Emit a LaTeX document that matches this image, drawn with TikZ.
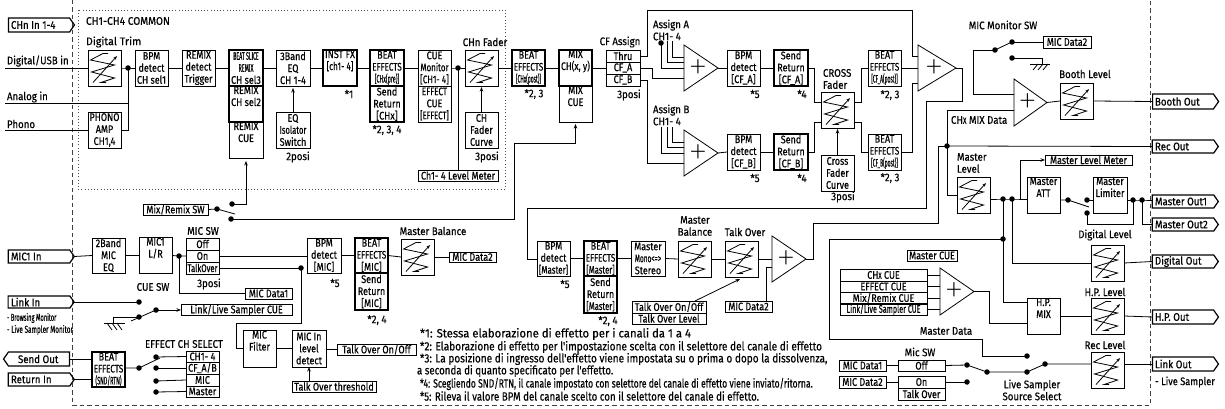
\documentclass[tikz,border=0pt]{standalone}
\usepackage{fontspec}
\usepackage{graphicx}
\setmainfont[FakeStretch=0.82,FakeBold=0.4]{Fira Sans}
\newfontfamily\widef[FakeStretch=0.88,FakeBold=0.4]{Fira Sans}
\newfontfamily\plusf{Lato Light}
\usetikzlibrary{arrows.meta,shapes.symbols}
\newcommand{\fsz}{\fontsize{11}{12}\selectfont}
\newcommand{\nar}[2]{\scalebox{#1}[1]{#2}}
\tikzset{
 wire/.style={line width=0.8pt,line cap=butt,line join=miter},
 box/.style={draw,line width=0.8pt,inner sep=0pt,outer sep=0pt,align=center,font=\fsz},
 tbox/.style={box,line width=1.5pt},
 lab/.style={inner sep=0pt,outer sep=0pt,align=center,font=\widef\fsz},
 labl/.style={lab,align=left,anchor=west},
 note/.style={labl,font=\widef\fontsize{12}{12}\selectfont},
 dot/.style={circle,fill,inner sep=0pt,outer sep=0pt,minimum size=5.5pt},
 arr/.style={wire,-{Stealth[length=4.5pt,width=3.5pt]}},
 sigbox/.style={signal,draw,line width=1.2pt,inner sep=0pt,outer sep=0pt,font=\widef\fsz,signal pointer angle=110},
 opbox/.style={inner sep=0pt,outer sep=0pt,font=\plusf\fontsize{29}{29}\selectfont},
}
% box given by its corners
\newcommand{\bx}[6][box]{\node[#1,minimum width={(#4-#2)*1pt},minimum height={(#5-#3)*1pt}] (#6) at ({(#2+#4)/2},{(#3+#5)/2})}
% level control
\newcommand{\vol}[3]{\bx{#2}{#3}{#2+33}{#3+36}{#1}{};
 \draw[line width=0.8pt,shift={(#1.north west)}] (20,3.5)--(15,3.5)--(2.5,10)--(26.5,15)--(3.5,22)--(26.5,28)--(13,32.5)--(18,32.5);
 \draw[line width=0.8pt,-{Stealth[length=4pt,width=3pt]},shift={(#1.north west)}] (5,32.5)--(29,6);}
% mixing amplifier
\newcommand{\amp}[5]{\node[opbox,minimum width={(#3-#2)*1pt},minimum height={(#5-#4)*1pt}] (#1) at ({(#2+#3)/2},{(#4+#5)/2}) {\hspace*{-6pt}+};
 \draw[line width=0.8pt] (#1.north west)--(#1.east)--(#1.south west)--cycle;}
% pentagon terminals
\newcommand{\sig}[7]{\node[sigbox,#1,minimum width={(#4-#2)*1pt},minimum height={(#5-#3)*1pt}] (#6) at ({(#2+#4)/2},{(#3+#5)/2}) {\makebox[56pt][l]{#7}};}
\begin{document}
\begin{tikzpicture}[x=1pt,y=-1pt,every node/.style={text=black}]
\useasboundingbox (0,0) rectangle (1225,409);
% frames
\draw[line width=0.9pt,dash pattern=on 4.5pt off 3pt,black!75] (72,0)--(72,405)--(1150,405)--(1150,0);
\draw[line width=0.9pt,dash pattern=on 1pt off 2.2pt,black!70] (78,10) rectangle (505,189);

% ---- input row
\sig{signal to=east}{6}{18}{72}{32}{chin}{CHn In 1-4}
\node[labl] (tcommon) at (86,21) {\nar{1.05}{CH1-CH4 COMMON}};
\node[labl] (ttrim) at (86,42) {\nar{1.1}{Digital Trim}};
\node[labl] (tdig) at (7,61) {Digital/USB in};
\node[labl] (tana) at (7,97) {Analog in};
\node[labl] (tpho) at (7,124) {Phono};
\coordinate (inD) at (5,68); \coordinate (inA) at (5,103); \coordinate (inP) at (5,130);
\vol{vTrim}{88}{50}
\node[dot] (dIn) at (128,68) {};
\bx{88}{112}{121}{148}{phono}{PHONO\\AMP\\CH1,4};
\bx{135}{50}{168}{86}{bpm1}{BPM\\detect\\CH sel1};
\bx{182}{50}{215}{86}{rem}{REMIX\\detect\\Trigger};
\bx{229}{122}{263}{158}{bs3}{REMIX\\CUE\\ \strut};
\bx[tbox]{229}{86}{263}{122}{bs2}{REMIX\\CH sel2\\ \strut};
\bx[tbox]{229}{50}{263}{86}{bs1}{\nar{.58}{BEAT SLICE}\\\nar{.6}{REMIX}\\CH sel3};
\bx{276}{50}{310}{86}{eq}{3Band\\EQ\\CH 1-4};
\bx{276}{112}{310}{148}{iso}{EQ\\\nar{.85}{Isolator}\\Switch};
\node[lab] (t2posi) at (298,157) {2posi};
\bx[tbox]{323}{50}{357}{86}{inst}{INST FX\\ \nar{.9}{[ch1- 4]}\\ \strut};
\node[lab] (tn1) at (349,94) {*1};
\bx[tbox]{370}{86}{404}{122}{fx1b}{Send\\Return\\{}[CHx]};
\bx[tbox]{370}{50}{404}{86}{fx1}{BEAT\\\nar{.9}{EFFECTS}\\\nar{.6}{[CHx(pre)]}};
\node[lab] (tn234) at (387,130) {*2, 3, 4};
\bx{418}{86}{451}{122}{cue2}{\nar{.9}{EFFECT}\\CUE\\\nar{.85}{[EFFECT]}};
\bx{418}{50}{451}{86}{cue}{CUE\\\nar{.88}{Monitor}\\\nar{.9}{[CH1- 4]}};
\node[dot] (dC) at (458,68) {};
\vol{vCh}{465}{50}
\node[lab] (tchf) at (485,42) {CHn Fader};
\bx{465}{112}{498}{148}{chc}{CH\\Fader\\Curve};
\node[lab] (t3p1) at (487,157) {3posi};
\bx{418}{170}{498}{181}{lm}{Ch1- 4 Level Meter};
\bx[tbox]{512}{50}{545}{86}{fx2}{BEAT\\\nar{.9}{EFFECTS}\\\nar{.55}{[CHx(post)]}};
\node[lab] (tn23a) at (534,94) {*2, 3};
\bx{559}{86}{592}{122}{mixc}{MIX\\CUE\\ \strut};
\bx[tbox]{559}{50}{592}{86}{mix}{MIX\\\nar{.95}{CH(x, y)}\\ \strut};
\node[lab] (tcf) at (620,42) {CF Assign};
\bx{606}{50}{640}{62}{thru}{Thru};
\bx{606}{62}{640}{74}{cfA}{CF\_A};
\bx{606}{74}{640}{86}{cfB}{CF\_B};
\node[lab] (t3p2) at (629,95) {3posi};
% assign
\node[labl] (tassA) at (653,30) {Assign A\\CH1- 4};
\node[labl] (tassB) at (653,115) {Assign B\\CH1- 4};
\node[dot] (dA) at (661,43) {};
\coordinate (aA2) at (667,41); \coordinate (aA3) at (672,41);
\coordinate (aB1) at (661,127); \coordinate (aB2) at (667,127); \coordinate (aB3) at (672,127);
\amp{opA}{684}{718}{45}{91}
\amp{opB}{684}{718}{130}{176}
\bx{727}{50}{760}{86}{bpmA}{BPM\\detect\\{}[CF\_A]};
\bx{727}{134}{760}{170}{bpmB}{BPM\\detect\\{}[CF\_B]};
\bx[tbox]{774}{50}{808}{86}{sendA}{Send\\Return\\{}[CF\_A]};
\bx[tbox]{774}{134}{808}{170}{sendB}{Send\\Return\\{}[CF\_B]};
\node[lab] (tn5a) at (755,94) {*5};
\node[lab] (tn4a) at (802,94) {*4};
\node[lab] (tn5b) at (755,178) {*5};
\node[lab] (tn4b) at (802,178) {*4};
\node[labl] (txf) at (823,79) {CROSS\\Fader};
\vol{vX}{821}{92}
\bx{821}{155}{854}{191}{xfc}{Cross\\Fader\\Curve};
\node[lab] (t3p3) at (843,197) {3posi};
\bx{868}{50}{901}{86}{fxA}{BEAT\\\nar{.9}{EFFECTS}\\\nar{.55}{[CF\_A(post)]}};
\bx{868}{134}{901}{170}{fxB}{BEAT\\\nar{.9}{EFFECTS}\\\nar{.55}{[CF\_B(post)]}};
\node[lab] (tn23b) at (890,95) {*2, 3};
\node[lab] (tn23c) at (890,178) {*2, 3};
\amp{opC}{918}{956}{45}{91}

% ---- monitor and booth
\node[lab] (tmon) at (1003,25) {MIC Monitor SW};
\bx{1043}{36}{1091}{48}{md2a}{MIC Data2};
\node[dot] (dM1) at (1012,42) {};
\node[dot] (dM0) at (995,50) {};
\node[dot] (dM2) at (1012,58) {};
\coordinate (aM) at (1014,41);
\coordinate (gM) at (1042,64);
\amp{opD}{1014}{1047}{79}{126}
\vol{vBooth}{1060}{83}
\node[lab] (tbooth) at (1085,74) {Booth Level};
\sig{signal to=east}{1150}{94}{1216}{109}{oBooth}{Booth Out}
\node[labl] (tchmix) at (951,120) {CH\nar{.8}{\small X} MIX Data};
\node[dot] (dR) at (947,146) {};
\sig{signal to=east}{1150}{140}{1216}{153}{oRec}{Rec Out}
\node[labl] (tml) at (957,163) {Master\\Level};
\vol{vML}{957}{177}
\node[dot] (dL1) at (1003,199) {};
\node[dot] (dL2) at (1012,199) {};
\bx{1045}{155}{1132}{165}{mlm}{Master Level Meter};
\bx{1027}{177}{1060}{213}{att}{Master\\ATT\\ \strut};
\node[dot] (dA1) at (1068,200) {};
\node[dot] (dA2) at (1087,200) {};
\node[dot] (dA3) at (1087,213) {};
\coordinate (aA) at (1089,207);
\bx{1093}{177}{1127}{213}{lim}{Master\\Limiter\\ \strut};
\node[dot] (dO1) at (1133,200) {};
\node[dot] (dO2) at (1142,200) {};
\sig{signal to=east}{1150}{195}{1216}{208}{oM1}{Master Out1}
\sig{signal to=east}{1150}{218}{1216}{231}{oM2}{Master Out2}
\node[lab] (tdl) at (1105,235) {Digital Level};
\vol{vDL}{1091}{245}
\sig{signal to=east}{1150}{255}{1216}{268}{oDig}{Digital Out}
\node[lab] (thpl) at (1105,292) {H.P. Level};
\vol{vHP}{1091}{298}
\sig{signal to=east}{1150}{310}{1216}{324}{oHP}{H.P. Out}
\node[dot] (dMD) at (1003,239) {};
\bx{1027}{298}{1060}{334}{hpm}{H.P.\\MIX\\ \strut};
\bx{907}{250}{957}{261}{mcue}{Master CUE};
\bx{840}{269}{927}{281}{c1}{CH\nar{.8}{\small X} CUE};
\bx{840}{281}{927}{292}{c2}{EFFECT CUE};
\bx{840}{292}{927}{304}{c3}{Mix/Remix CUE};
\bx{840}{304}{927}{315}{c4}{\nar{.8}{Link/Live Sampler CUE}};
\amp{opE}{940}{974}{268}{315}
\node[lab] (tmd) at (946,331) {Master Data};
\node[lab] (tmsw) at (920,352) {Mic SW};
\bx{839}{360}{886}{371}{md1c}{MIC Data1};
\bx{839}{376}{886}{388}{md2c}{MIC Data2};
\bx{898}{360}{945}{371}{sOff}{Off};
\bx{898}{376}{945}{388}{sOn}{On};
\bx{898}{388}{945}{400}{sTO}{Talk Over};
\node[dot] (dS1) at (967,365) {};
\node[dot] (dS2) at (967,382) {};
\node[dot] (dS3) at (987,372) {};
\node[dot] (dS4) at (1027,372) {};
\node[dot] (dS5) at (1027,356) {};
\node[dot] (dS6) at (1045,364) {};
\node[lab] (tsel) at (1032,390) {Live Sampler\\Source Select};
\node[lab] (trl) at (1105,345) {Rec Level};
\vol{vRL}{1091}{352}
\sig{signal to=east}{1150}{357}{1216}{371}{oLink}{Link Out}
\node[labl] (tls) at (1155,382) {\nar{.95}{- Live Sampler}};

% ---- mic row
\sig{signal to=east}{6}{250}{72}{263}{iMic}{MIC1 In}
\bx{92}{238}{125}{273}{m2b}{2Band\\MIC\\EQ};
\bx{139}{238}{172}{273}{mlr}{MIC1\\L/R\\ \strut};
\node[dot] (dMic) at (179,256) {};
\node[lab] (tmsw2) at (203,231) {MIC SW};
\bx{186}{238}{219}{250}{mOff}{Off};
\bx{186}{250}{219}{262}{mOn}{On};
\bx{186}{262}{219}{274}{mTO}{\nar{.85}{TalkOver}};
\node[lab] (t3p4) at (209,284) {3posi};
\bx{245}{288}{292}{299}{md1a}{MIC Data1};
\node[dot] (dTO) at (301,268) {};
\bx{307}{238}{341}{273}{bpmM1}{BPM\\detect\\{}[MIC]};
\node[lab] (tn5c) at (335,283) {*5};
\bx[tbox]{355}{273}{388}{310}{fxMb}{Send\\Return\\{}[MIC]};
\bx[tbox]{355}{238}{388}{273}{fxM}{BEAT\\\nar{.9}{EFFECTS}\\{}[MIC]};
\node[lab] (tn24a) at (377,320) {*2, 4};
\node[lab] (tmb1) at (433,231) {Master Balance};
\vol{vMB}{401}{239}
\bx{449}{252}{496}{262}{md2b}{MIC Data2};
\bx{143}{204}{208}{215}{mrsw}{Mix/Remix SW};
\node[dot] (dMR) at (217,209) {};
\node[dot] (dMR1) at (232,204) {};
\node[dot] (dMR2) at (231,219) {};
\coordinate (aMR) at (235,214);

\sig{signal to=east}{6}{296}{72}{308}{iLink}{Link In}
\node[labl,font=\fontsize{10}{12}\selectfont] (tbm) at (7,318) {\nar{.7}{- Browsing Monitor}};
\node[labl,font=\fontsize{10}{12}\selectfont] (tlm) at (7,330) {\nar{.78}{- Live Sampler Monitor}};
\node[lab] (tcsw) at (153,287) {CUE SW};
\node[dot] (dK1) at (139,302) {};
\node[dot] (dK2) at (139,317) {};
\node[dot] (dK3) at (156,310) {};
\coordinate (aK) at (131,321);
\coordinate (gK) at (113,323);
\bx{181}{305}{292}{315}{lcue}{Link/Live Sampler CUE};

\sig{signal to=west}{6}{352}{72}{366}{oSend}{\hspace*{7pt}Send Out}
\sig{signal to=east}{6}{373}{72}{386}{iRet}{Return In}
\bx[tbox]{92}{352}{125}{387}{fxS}{BEAT\\\nar{.9}{EFFECTS}\\\nar{.6}{(SND/RTN)}};
\node[dot] (dE0) at (139,368) {};
\coordinate (aE) at (160,358);
\node[lab] (tech) at (184,344) {EFFECT CH SELECT};
\node[dot] (dE1) at (156,357) {};
\node[dot] (dE2) at (156,368) {};
\node[dot] (dE3) at (156,381) {};
\node[dot] (dE4) at (156,392) {};
\bx{186}{351}{219}{362}{e1}{CH1- 4};
\bx{186}{362}{219}{374}{e2}{CF\_A/B};
\bx{186}{374}{219}{386}{e3}{MIC};
\bx{186}{386}{219}{397}{e4}{Master};
\bx{243}{330}{276}{367}{mfil}{MIC\\Filter\\ \strut};
\bx{292}{330}{326}{367}{mlev}{MIC In\\level\\detect};
\bx{337}{344}{416}{355}{toOO}{Talk Over On/Off};
\bx{292}{381}{376}{392}{toth}{Talk Over threshold};

% ---- master row
\bx{537}{241}{570}{276}{bpmM}{BPM\\detect\\\nar{.88}{[Master]}};
\node[lab] (tn5d) at (565,284) {*5};
\bx[tbox]{584}{276}{617}{313}{fxMs2}{Send\\Return\\\nar{.85}{[Master]}};
\bx[tbox]{584}{241}{617}{276}{fxMs}{BEAT\\\nar{.9}{EFFECTS}\\\nar{.85}{[Master]}};
\node[lab] (tn24b) at (608,321) {*2, 4};
\bx{631}{241}{665}{276}{mono}{Master\\\nar{.72}{Mono<=>}\\Stereo};
\node[lab] (tmb2) at (695,226) {Master\\Balance};
\vol{vMB2}{678}{241}
\node[lab] (tto) at (745,232) {Talk Over};
\vol{vTO}{725}{241}
\amp{opT}{772}{806}{236}{282}
\bx{725}{301}{772}{312}{md2d}{MIC Data2};
\bx{632}{301}{706}{313}{too2}{Talk Over On/Off};
\bx{632}{313}{706}{324}{tol}{Talk Over Level};
\coordinate (aTO) at (740,279);

% ---- notes
\node[note] (n1) at (420,334) {\nar{1.07}{*1: Stessa elaborazione di effetto per i canali da 1 a 4}};
\node[note] (n2) at (420,347) {\nar{.955}{*2: Elaborazione di effetto per l'impostazione scelta con il selettore del canale di effetto}};
\node[note] (n3) at (420,359) {\nar{.95}{*3: La posizione di ingresso dell'effetto viene impostata su o prima o dopo la dissolvenza,}};
\node[note] (n3b) at (417,371) {\nar{.92}{a seconda di quanto specificato per l'effetto.}};
\node[note] (n4) at (420,384) {\nar{.815}{*4: Scegliendo SND/RTN, il canale impostato con selettore del canale di effetto viene inviato/ritorna.}};
\node[note] (n5) at (420,396) {\nar{.92}{*5: Rileva il valore BPM del canale scelto con il selettore del canale di effetto.}};

% ---- connectors
\begin{scope}[wire]
\draw (inD)--(vTrim.west); \draw (vTrim.east)--(dIn.center)--(bpm1.west);
\draw (inA)-|(dIn.center); \draw (inP)--(phono.west); \draw (phono.east)-|(dIn.center);
\draw (bpm1.east)--(rem.west); \draw (rem.east)--(bs1.west); \draw (bs1.east)--(eq.west);
\draw (eq.east)--(inst.west); \draw (inst.east)--(fx1.west); \draw (fx1.east)--(cue.west);
\draw (cue.east)--(dC.center)--(vCh.west); \draw (dC.center)--(dC.center|-lm.north);
\draw (vCh.east)--(fx2.west); \draw (fx2.east)--(mix.west); \draw (mix.east)--(cfA.west);
\draw (thru.east)-|(647,10)-|(912,56)--(opC.west|-0,56);
\draw (cfA.east)-|(652,78)--(opA.west|-0,78);
\draw (cfB.east)-|(647,163)--(opB.west|-0,163);
\draw (dA.center)|-(opA.west|-0,68); \draw (aA2)|-(opA.west|-0,62); \draw (aA3)|-(opA.west|-0,57);
\draw (aB1)|-(opB.west|-0,153); \draw (aB2)|-(opB.west|-0,147); \draw (aB3)|-(opB.west|-0,142);
\draw (opA.east)--(bpmA.west); \draw (bpmA.east)--(sendA.west);
\draw (opB.east)--(bpmB.west); \draw (bpmB.east)--(sendB.west);
\draw (sendA.east)-|(814,102)--(vX.west|-0,102);
\draw (sendB.east)-|(814,122)--(vX.west|-0,122);
\draw (vX.east|-0,102)-|(861,68)--(fxA.west);
\draw (vX.east|-0,122)-|(861,152)--(fxB.west);
\draw (fxA.east)--(opC.west|-fxA.east);
\draw (fxB.east)-|(912,83)--(opC.west|-0,83);
\draw (opC.east)-|(962,101)-|(926,208)-|(527,259)--(bpmM.west|-0,259);
\draw (bpmM.east)--(fxMs.west); \draw (fxMs.east)--(mono.west); \draw (mono.east)--(vMB2.west);
\draw (vMB2.east)--(vTO.west); \draw (vTO.east)--(opT.west);
\draw (md2d.north-|766,0)|-(opT.west|-0,267);
\draw (opT.east)-|(813,223)-|(dR.center-|938,0);
\draw (938,146)--(dR.center);
\draw (dR.center)--(oRec.west);
% monitor
\draw (dM1.center)--(md2a.west);
\draw (dM0.center)--(aM);
\draw (dM2.center)-|(gM);
\draw (1030,64)--(1050,64);
\draw (1038,64)--(1033,70); \draw (1043,64)--(1038,70); \draw (1048,64)--(1043,70);
\draw (dM0.center)-|(973,94)--(opD.west|-0,94);
\draw (opD.east)--(vBooth.west); \draw (vBooth.east)--(oBooth.west);
\draw (opD.west|-0,110)-|(dR.center); \draw (dR.center)|-(vML.west);
\draw (vML.east|-dL1)--(dL1.center)--(dL2.center)--(att.west|-dL1);
\draw (att.east|-dA1)--(dA1.center)--(aA);
\draw (dA2.center)--(lim.west|-dA2); \draw (lim.east|-dO1)--(dO1.center)--(dO2.center)--(oM1.west|-dO2);
\draw (dO1.center)|-(1087,224)--(dA3.center);
\draw (dO2.center)|-(oM2.west);
\draw (dL2.center)|-(vDL.west); \draw (vDL.east)--(oDig.west);
\draw (dL1.center)|-(hpm.west|-0,302);
\draw (hpm.east)--(vHP.west); \draw (vHP.east)--(oHP.west);
\draw (dMD.center)-|(829,339)-|(982,356)--(dS5.center);
\draw (c1.east)--(opE.west|-c1.east); \draw (c2.east)--(opE.west|-c2.east); \draw (c3.east)--(opE.west|-c3.east); \draw (c4.east)--(opE.west|-c4.east);
\draw (opE.east)-|(989,323)--(hpm.west|-0,323);
\draw (md1c.east)--(sOff.west); \draw (md2c.east)--(sOn.west);
\draw (sOff.east)--(dS1.center); \draw (sOn.east)--(dS2.center);
\draw (dS1.center)--(dS3.center)--(dS4.center)--(dS6.center)--(vRL.west|-dS6);
\draw (vRL.east|-dS6)--(oLink.west);
% mic
\draw (iMic.east)--(m2b.west); \draw (m2b.east)--(mlr.west); \draw (mlr.east)--(dMic.center)--(mOn.west);
\draw (dMic.center)|-(md1a.west);
\draw (mOn.east)--(bpmM1.west|-mOn.east); \draw (mTO.east)--(dTO.center);
\draw (dTO.center)|-(236,323)|-(mfil.west);
\draw (bpmM1.east)--(fxM.west); \draw (fxM.east)--(vMB.west|-0,257); \draw (vMB.east|-0,257)--(md2b.west);
\draw (mfil.east)--(mlev.west); \draw (mlev.east|-toOO.west)--(toOO.west);
\draw (mrsw.east)--(dMR.center)--(aMR);
\draw (iLink.east)--(dK1.center);
\draw (dK2.center)--(113,317)--(gK);
\draw (104,323)--(125,323);
\draw (107,323)--(112,330); \draw (112,323)--(117,330); \draw (117,323)--(122,330);
\draw (dK3.center)--(aK);
\draw (fxS.west|-oSend.east)--(oSend.east); \draw (iRet.east)--(fxS.west|-iRet.east);
\draw (fxS.east|-dE0)--(dE0.center)--(aE);
\draw (dE1.center)--(e1.west); \draw (dE2.center)--(e2.west); \draw (dE3.center)--(e3.west); \draw (dE4.center)--(e4.west);
\end{scope}
\draw[arr,shorten >=2pt] (iso.north)--(eq.south);
\draw[arr,shorten >=1pt] (chc.north)--(vCh.south);
\draw[arr,shorten >=1pt] (xfc.north)--(vX.south);
\draw[arr] (toth.north-|309,0)--(mlev.south-|309,0);
\draw[arr] (dK3.center)--(lcue.west);
\draw[arr] (dL1.center-|1020,0)|-(mlm.west);
\draw[arr,shorten >=2pt] (dMR2.center)-|(514,143)-|(mixc.south);
\draw[arr,shorten >=3pt] (dMR1.center)-|(bs3.south);
\draw[arr] (too2.north-|695,0)--(aTO);
\end{tikzpicture}
\end{document}
